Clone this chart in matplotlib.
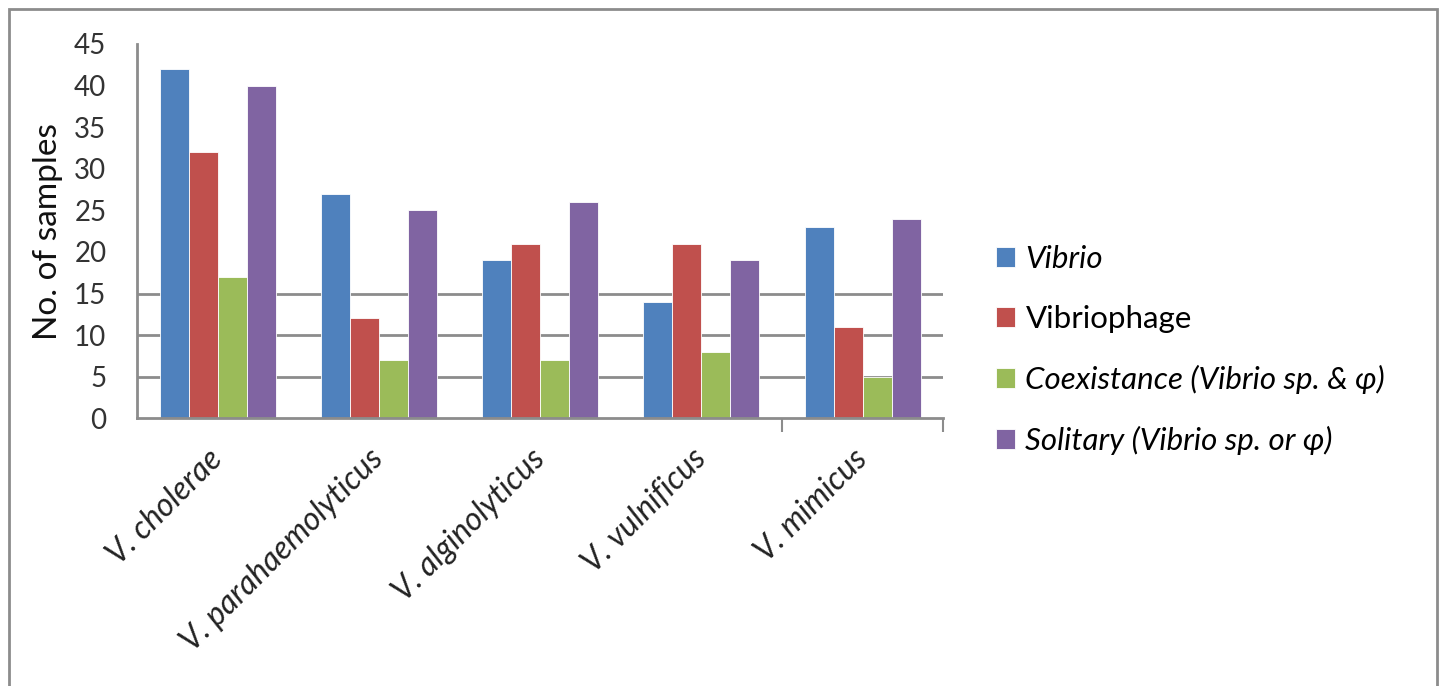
import numpy as np
import matplotlib.pyplot as plt
from matplotlib.patches import Rectangle

plt.rcParams['font.family'] = ['Lato', 'DejaVu Sans']

species = ['V. cholerae', 'V. parahaemolyticus', 'V. alginolyticus', 'V. vulnificus', 'V. mimicus']
vibrio = [42, 27, 19, 14, 23]
vibriophage = [32, 12, 21, 21, 11]
coexistance = [17, 7, 7, 8, 5]
solitary = [40, 25, 26, 19, 24]

series_names = ['Vibrio', 'Vibriophage', 'Coexistance (Vibrio sp. & φ)', 'Solitary (Vibrio sp. or φ)']
series_styles = ['italic', 'normal', 'italic', 'italic']
colors = ['#4f81bd', '#c0504d', '#9bbb59', '#8064a2']
yticks = [0, 5, 10, 15, 20, 25, 30, 35, 40, 45]

fig = plt.figure(figsize=(14.4, 6.86), dpi=100)
ax = fig.add_axes([0.0951, 0.3902, 0.56, 0.5457])

# outer chart border
fig.patches.append(Rectangle((0.0065, -0.02), 0.9915, 1.007, transform=fig.transFigure,
                             fill=False, edgecolor='#8c8c8c', linewidth=2))

x = np.arange(len(species))
w = 0.18
data = [vibrio, vibriophage, coexistance, solitary]
bars = []
for i, (vals, c) in enumerate(zip(data, colors)):
    b = ax.bar(x + (i - 1.5) * w, vals, w, color=c, edgecolor='white', linewidth=0.6, zorder=3)
    bars.append(b)

ax.set_xlim(-0.5, 4.5)
ax.set_ylim(0, 45)
ax.set_yticks(yticks)
ax.set_yticklabels([str(t) for t in yticks], fontsize=20, color='#333333')

# gridlines only visible at the lower levels in the reference
for g in [5, 10, 15]:
    ax.axhline(g, color='#8c8c8c', linewidth=2, zorder=1)

ax.set_xticks(x)
ax.set_xticklabels(species, rotation=45, ha='right', va='center', rotation_mode='anchor',
                   fontsize=23, style='italic', color='#222222')
ax.tick_params(axis='x', length=0, pad=26)
ax.set_xticks([3.5, 4.5], minor=True)
ax.tick_params(axis='x', which='minor', length=10, width=1.5, color='#8c8c8c', direction='out')
ax.tick_params(axis='y', length=0, pad=22)

for s in ['top', 'right']:
    ax.spines[s].set_visible(False)
ax.spines['left'].set_color('#8c8c8c')
ax.spines['left'].set_linewidth(2)
ax.spines['bottom'].set_color('#8c8c8c')
ax.spines['bottom'].set_linewidth(2)
ax.spines['bottom'].set_zorder(4)

ax.set_ylabel('No. of samples', fontsize=24, color='#111111', labelpad=8)

handles = [b[0] for b in bars]
leg = fig.legend(handles, series_names, loc='upper left', bbox_to_anchor=(0.672, 0.684),
                 frameon=False, fontsize=22.5, handlelength=0.6, handleheight=0.6,
                 handletextpad=0.35, labelspacing=1.02)
for t, st in zip(leg.get_texts(), series_styles):
    t.set_style(st)

fig.savefig('out.png', dpi=100)
